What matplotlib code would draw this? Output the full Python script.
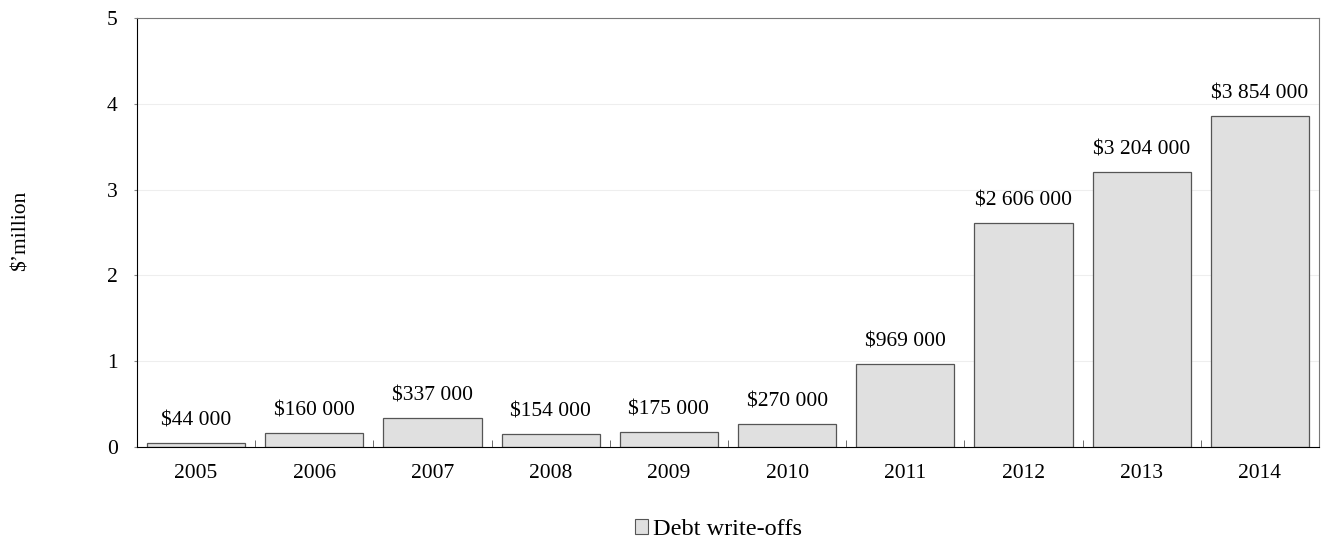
import numpy as np
import matplotlib.pyplot as plt
from matplotlib.patches import Patch

years = ['2005', '2006', '2007', '2008', '2009', '2010', '2011', '2012', '2013', '2014']
writeoffs = [44000, 160000, 337000, 154000, 175000, 270000, 969000, 2606000, 3204000, 3854000]

plt.rcParams['font.family'] = ['Liberation Serif', 'DejaVu Serif']
plt.rcParams['font.size'] = 15.5

fig = plt.figure(figsize=(13.21, 5.44), dpi=100)
ax = fig.add_axes([0.1037, 0.178, 0.8948, 0.789])

x = np.arange(len(years))
vals = np.array(writeoffs) / 1e6
ax.bar(x, vals, width=0.83, color='#e0e0e0', edgecolor='#555555', linewidth=0.9, zorder=2)

for xi, v, raw in zip(x, vals, writeoffs):
    lab = '$' + f'{raw:,}'.replace(',', ' ')
    ax.text(xi, v + 0.15, lab, ha='center', va='bottom')

ax.set_xlim(-0.5, len(years) - 0.5)
ax.set_ylim(0, 5)
ax.set_yticks(range(6))
ax.yaxis.grid(True, color='#eeeeee', linewidth=0.8, zorder=0)
ax.set_axisbelow(True)

ax.set_xticks(x)
ax.set_xticklabels(years)
ax.tick_params(axis='x', length=0, pad=12)
ax.set_xticks(np.arange(0.5, len(years) - 1, 1), minor=True)
ax.tick_params(axis='x', which='minor', direction='in', length=5, color='#555555')
ax.tick_params(axis='y', length=2.5, color='#888888', pad=11.5)

for s in ['top', 'right']:
    ax.spines[s].set_color('#777777')
for s in ['left', 'bottom']:
    ax.spines[s].set_color('black')

fig.text(0.016, 0.575, "$\u2019million", rotation=90, ha='center', va='center')

handle = Patch(facecolor='#e0e0e0', edgecolor='#555555', linewidth=0.8)
fig.legend([handle], ['Debt write-offs'], loc='center', bbox_to_anchor=(0.5437, 0.026),
           frameon=False, handlelength=0.55, handleheight=0.55, handletextpad=0.2,
           borderpad=0, fontsize=17.5)

fig.savefig('out.png', dpi=100)
